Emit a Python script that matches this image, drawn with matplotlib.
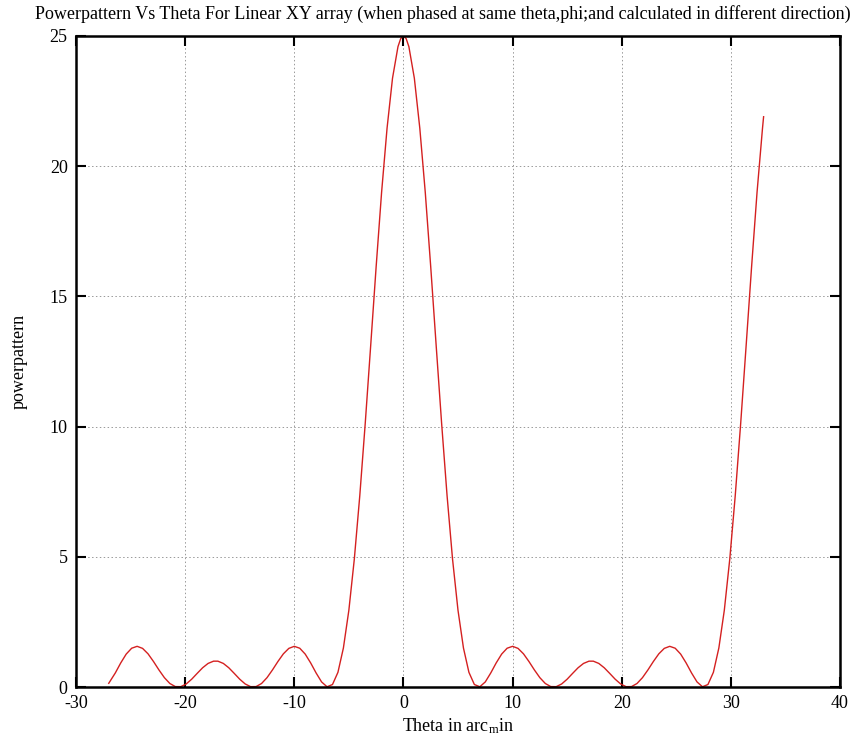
import matplotlib
matplotlib.use("Agg")
import matplotlib.pyplot as plt

plt.rcParams["font.family"] = ["Liberation Serif", "DejaVu Serif"]
plt.rcParams["mathtext.fontset"] = "custom"
plt.rcParams["mathtext.rm"] = "Liberation Serif"
plt.rcParams["mathtext.it"] = "Liberation Serif"
plt.rcParams["axes.unicode_minus"] = False

# theta (arc min)
theta = [
    -27.0, -26.4, -25.9, -25.4, -24.9, -24.4, -23.9, -23.4, -22.9, -22.4,
    -21.9, -21.4, -20.9, -20.4, -19.9, -19.4, -18.9, -18.4, -17.9, -17.4,
    -17.0, -16.5, -16.0, -15.5, -15.0, -14.5, -14.0, -13.5, -13.0, -12.5,
    -12.0, -11.5, -11.0, -10.5, -10.0, -9.5, -9.0, -8.5, -8.0, -7.5,
    -7.0, -6.5, -6.0, -5.5, -5.0, -4.5, -4.0, -3.5, -3.0, -2.5,
    -2.0, -1.5, -1.0, -0.5, -0.25, 0.0, 0.25, 0.5, 1.0, 1.5, 2.0, 2.5,
    3.0, 3.5, 4.0, 4.5, 5.0, 5.5, 6.0, 6.5, 7.0, 7.5,
    8.0, 8.5, 9.0, 9.5, 10.0, 10.5, 11.0, 11.5, 12.0, 12.5,
    13.0, 13.5, 14.0, 14.5, 15.0, 15.5, 16.0, 16.5, 17.0, 17.4,
    17.9, 18.4, 18.9, 19.4, 19.9, 20.4, 20.9, 21.4, 21.9, 22.4,
    22.9, 23.4, 23.9, 24.4, 24.9, 25.4, 25.9, 26.4, 26.9, 27.4,
    27.9, 28.4, 28.9, 29.4, 29.9, 30.4, 30.9, 31.4, 31.9, 32.4,
    32.9, 33.0,
]
power = [
    0.142, 0.538, 0.925, 1.264, 1.489, 1.562, 1.483, 1.274, 0.979, 0.655,
    0.358, 0.134, 0.016, 0.013, 0.117, 0.300, 0.522, 0.738, 0.905, 0.992,
    0.992, 0.905, 0.738, 0.522, 0.300, 0.117, 0.013, 0.016, 0.134, 0.358,
    0.655, 0.979, 1.274, 1.483, 1.562, 1.489, 1.264, 0.925, 0.538, 0.195,
    0.009, 0.095, 0.564, 1.498, 2.946, 4.91, 7.34, 10.12, 13.11, 16.14,
    19.00, 21.46, 23.38, 24.59, 24.90, 25.00, 24.90, 24.59, 23.38, 21.46, 19.00, 16.14,
    13.11, 10.12, 7.34, 4.91, 2.946, 1.498, 0.564, 0.095, 0.009, 0.195,
    0.538, 0.925, 1.264, 1.489, 1.562, 1.483, 1.274, 0.979, 0.655, 0.358,
    0.134, 0.016, 0.013, 0.117, 0.300, 0.522, 0.738, 0.905, 0.992, 0.992,
    0.905, 0.738, 0.522, 0.300, 0.117, 0.013, 0.016, 0.134, 0.358, 0.655,
    0.979, 1.274, 1.483, 1.562, 1.489, 1.264, 0.925, 0.538, 0.195, 0.009,
    0.095, 0.564, 1.498, 2.946, 4.91, 7.34, 10.12, 13.11, 16.14, 19.00,
    21.46, 21.90,
]
x_ticks = [-30, -20, -10, 0, 10, 20, 30, 40]
y_ticks = [0, 5, 10, 15, 20, 25]

fig = plt.figure(figsize=(8.55, 7.4), dpi=100)
ax = fig.add_axes([76 / 855, 1 - 687 / 740, 764 / 855, 651 / 740])

ax.plot(theta, power, color="#d42020", linewidth=1.0)

ax.set_xlim(-30, 40)
ax.set_ylim(0, 25)
ax.set_xticks(x_ticks)
ax.set_yticks(y_ticks)
ax.grid(True, color="#999999", linestyle=(0, (1.5, 2.5)), linewidth=0.7)
ax.tick_params(direction="in", length=7, width=1.5, top=True, right=True,
               labelsize=13, pad=6)
for s in ax.spines.values():
    s.set_linewidth(1.8)

ax.set_xlabel("Theta in arc$_{\\mathrm{m}}$in", fontsize=13, labelpad=3)
ax.set_ylabel("powerpattern", fontsize=13, labelpad=16)
fig.text(443 / 855, 1 - 14 / 740,
         "Powerpattern Vs Theta For Linear XY array (when phased at same theta,phi;and calculated in different direction)",
         ha="center", va="center", fontsize=13)

fig.savefig("out.png", dpi=100)
